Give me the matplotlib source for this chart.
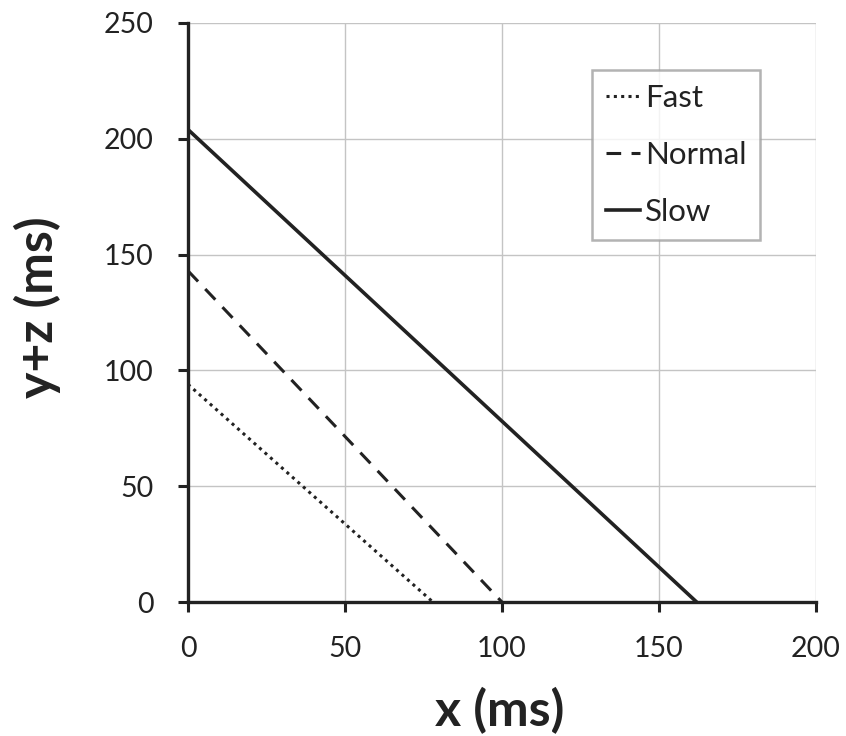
import matplotlib
matplotlib.use("Agg")
import matplotlib.pyplot as plt

# Endpoints of each reaction-time line (x in ms, y+z in ms)
fast_x = [0, 78]
fast_y = [94, 0]
normal_x = [0, 100]
normal_y = [143, 0]
slow_x = [0, 162]
slow_y = [204, 0]

x_ticks = [0, 50, 100, 150, 200]
y_ticks = [0, 50, 100, 150, 200, 250]

plt.rcParams['font.family'] = ['Lato', 'DejaVu Sans']
text_color = '#222222'

fig = plt.figure(figsize=(8.46, 7.36), dpi=100)
ax = fig.add_axes([0.2222, 0.182, 0.7423, 0.7868])

ax.plot(fast_x, fast_y, color='#222222', lw=2.2, linestyle=(0, (1, 1.4)), label='Fast')
ax.plot(normal_x, normal_y, color='#222222', lw=2.2, linestyle=(0, (4.8, 3.4)), label='Normal')
ax.plot(slow_x, slow_y, color='#222222', lw=2.6, label='Slow')

ax.set_xlim(0, 200)
ax.set_ylim(0, 250)
ax.set_xticks(x_ticks)
ax.set_yticks(y_ticks)
ax.grid(True, color='#c4c4c4', lw=1.0)
ax.set_axisbelow(True)

for side in ('top', 'right'):
    ax.spines[side].set_visible(False)
for side in ('left', 'bottom'):
    ax.spines[side].set_linewidth(2.4)
    ax.spines[side].set_color(text_color)

ax.tick_params(direction='out', length=7.5, width=2.2, color=text_color,
               labelsize=20.5, labelcolor=text_color, pad=17)

ax.set_xlabel('x (ms)', fontsize=36, fontweight='bold', color=text_color, va='center')
ax.set_ylabel('y+z (ms)', fontsize=36, fontweight='bold', color=text_color, va='center')
ax.xaxis.set_label_coords(0.497, -0.188)
ax.yaxis.set_label_coords(-0.240, 0.51)

leg = ax.legend(loc='upper left', bbox_to_anchor=(0.643, 0.919), fontsize=22.5,
                frameon=True, fancybox=False, edgecolor='#a0a0a0',
                handlelength=1.1, handletextpad=0.15, labelspacing=0.93,
                borderpad=0.45, borderaxespad=0)
leg.get_frame().set_linewidth(1.8)
for t in leg.get_texts():
    t.set_color(text_color)

fig.savefig('out.png', dpi=100, facecolor='white')
